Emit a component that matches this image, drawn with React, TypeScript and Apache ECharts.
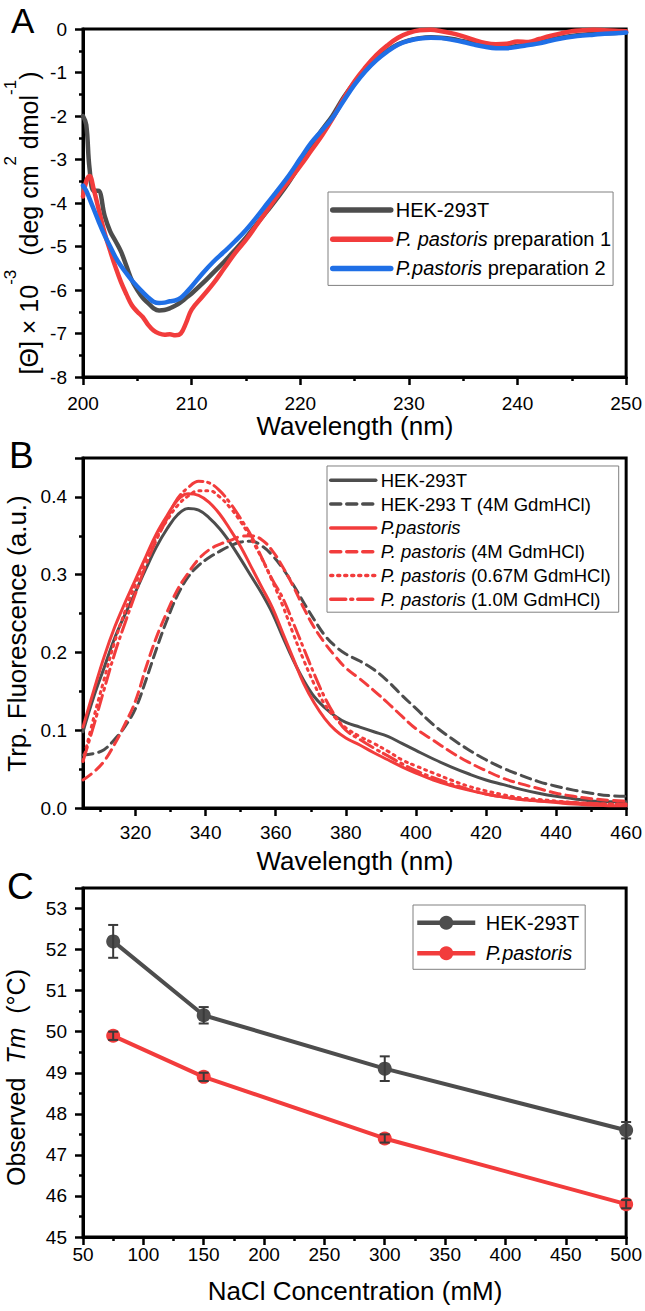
import React, { useEffect, useRef } from 'react';
import * as echarts from 'echarts';

const FONT = '"Liberation Sans", Arial, Helvetica, sans-serif';
const GRAY = '#4d4d4d';
const RED = '#f23c3c';
const BLUE = '#1f6fe6';

// ---------- Panel A : CD spectra ----------
const cdWavelength = [200, 200.3, 200.6, 201, 201.4, 202, 202.5, 203, 203.5, 204, 204.5, 205, 205.5, 206, 206.5, 207, 207.5, 208, 208.5, 209, 209.5,
  210, 211, 212, 213, 214, 215, 216, 217, 218, 219, 220, 221, 222, 223, 224, 225, 226, 227, 228, 229, 230,
  231, 232, 233, 234, 235, 236, 237, 238, 239, 240, 241, 242, 243, 244, 245, 246, 247, 248, 249, 250];
const cdHEK = [-2.0, -2.2, -3.2, -3.72, -3.72, -4.3, -4.65, -4.88, -5.12, -5.45, -5.78, -6.0, -6.18, -6.3, -6.42, -6.47, -6.46, -6.42, -6.36, -6.28, -6.18,
  -6.08, -5.85, -5.6, -5.35, -5.08, -4.8, -4.48, -4.17, -3.85, -3.5, -3.1, -2.68, -2.32, -1.98, -1.57, -1.23, -0.95, -0.7, -0.5, -0.35, -0.26,
  -0.21, -0.19, -0.2, -0.23, -0.28, -0.33, -0.38, -0.41, -0.41, -0.39, -0.35, -0.3, -0.25, -0.2, -0.16, -0.13, -0.11, -0.1, -0.09, -0.08];
const cdPichia1 = [-3.85, -3.5, -3.38, -3.7, -4.1, -4.7, -5.1, -5.48, -5.82, -6.1, -6.35, -6.5, -6.62, -6.8, -6.93, -7.0, -7.03, -7.02, -7.04, -7.0, -6.75,
  -6.45, -6.15, -5.85, -5.5, -5.15, -4.85, -4.5, -4.15, -3.8, -3.48, -3.15, -2.8, -2.45, -2.05, -1.6, -1.2, -0.88, -0.6, -0.38, -0.2, -0.09,
  -0.03, -0.02, -0.05, -0.1, -0.17, -0.25, -0.32, -0.35, -0.34, -0.29, -0.3, -0.23, -0.16, -0.1, -0.05, -0.03, -0.02, -0.03, -0.04, -0.05];
const cdPichia2 = [-3.6, -3.72, -3.9, -4.15, -4.4, -4.75, -5.0, -5.25, -5.45, -5.62, -5.78, -5.92, -6.05, -6.17, -6.27, -6.3, -6.29, -6.26, -6.24, -6.18, -6.06,
  -5.92, -5.62, -5.35, -5.12, -4.88, -4.62, -4.32, -4.0, -3.68, -3.35, -2.98, -2.62, -2.33, -2.03, -1.65, -1.28, -0.97, -0.72, -0.52, -0.36, -0.27,
  -0.22, -0.2, -0.21, -0.25, -0.3, -0.36, -0.41, -0.44, -0.44, -0.41, -0.37, -0.33, -0.27, -0.22, -0.18, -0.15, -0.13, -0.11, -0.1, -0.08];

// ---------- Panel B : Trp fluorescence ----------
const flWavelength = [305, 308, 311, 314, 317, 320, 323, 326, 329, 332, 335, 338, 341, 344, 347, 350, 353, 356, 359, 362, 365, 368, 371, 374, 377, 380,
  384, 388, 392, 396, 400, 405, 410, 415, 420, 425, 430, 435, 440, 445, 450, 455, 460];
const flHEK = [0.098, 0.142, 0.18, 0.218, 0.249, 0.278, 0.308, 0.336, 0.359, 0.377, 0.385, 0.383, 0.373, 0.359, 0.341, 0.32, 0.298, 0.276, 0.251, 0.22, 0.19, 0.164, 0.143, 0.129, 0.118, 0.11,
  0.104, 0.098, 0.092, 0.083, 0.074, 0.063, 0.053, 0.044, 0.036, 0.03, 0.024, 0.019, 0.015, 0.012, 0.009, 0.008, 0.008];
const flHEK4M = [0.068, 0.07, 0.075, 0.088, 0.105, 0.128, 0.165, 0.205, 0.242, 0.274, 0.297, 0.312, 0.322, 0.33, 0.337, 0.342, 0.343, 0.337, 0.325, 0.308, 0.287, 0.264, 0.242, 0.222, 0.208, 0.198,
  0.189, 0.178, 0.163, 0.145, 0.128, 0.107, 0.09, 0.075, 0.062, 0.051, 0.042, 0.034, 0.028, 0.023, 0.019, 0.016, 0.015];
const flPichia = [0.104, 0.15, 0.194, 0.232, 0.264, 0.294, 0.324, 0.353, 0.376, 0.396, 0.404, 0.402, 0.393, 0.378, 0.358, 0.336, 0.31, 0.284, 0.258, 0.225, 0.192, 0.16, 0.135, 0.115, 0.1, 0.09,
  0.081, 0.071, 0.062, 0.053, 0.045, 0.036, 0.029, 0.023, 0.018, 0.014, 0.011, 0.009, 0.007, 0.005, 0.004, 0.003, 0.003];
const flPichia4M = [0.036, 0.046, 0.06, 0.082, 0.108, 0.138, 0.181, 0.22, 0.252, 0.281, 0.302, 0.32, 0.332, 0.339, 0.344, 0.349, 0.35, 0.345, 0.331, 0.31, 0.285, 0.257, 0.232, 0.212, 0.195, 0.18,
  0.166, 0.151, 0.135, 0.118, 0.102, 0.087, 0.072, 0.059, 0.048, 0.038, 0.031, 0.025, 0.019, 0.015, 0.012, 0.01, 0.009];
const flPichia067M = [0.06, 0.115, 0.165, 0.213, 0.253, 0.288, 0.321, 0.348, 0.37, 0.389, 0.401, 0.408, 0.408, 0.4, 0.386, 0.368, 0.346, 0.321, 0.292, 0.26, 0.224, 0.19, 0.159, 0.133, 0.116, 0.103,
  0.092, 0.083, 0.073, 0.062, 0.054, 0.045, 0.036, 0.028, 0.022, 0.017, 0.013, 0.011, 0.009, 0.007, 0.006, 0.005, 0.005];
const flPichia10M = [0.06, 0.105, 0.152, 0.198, 0.238, 0.276, 0.313, 0.345, 0.372, 0.398, 0.412, 0.42, 0.418, 0.408, 0.392, 0.372, 0.35, 0.322, 0.294, 0.27, 0.238, 0.205, 0.172, 0.142, 0.118, 0.1,
  0.088, 0.077, 0.067, 0.057, 0.048, 0.039, 0.031, 0.024, 0.018, 0.014, 0.011, 0.009, 0.008, 0.007, 0.006, 0.005, 0.005];
const flTicks = [320, 340, 360, 380, 400, 420, 440, 460];
const flMinorTicks = [310, 330, 350, 370, 390, 410, 430, 450];

// ---------- Panel C : Tm vs NaCl ----------
const nacl = [75, 150, 300, 500];
const tmHEK = [52.2, 50.4, 49.1, 47.6];
const tmHEKErr = [0.4, 0.2, 0.3, 0.2];
const tmPichia = [49.9, 48.9, 47.4, 45.8];
const tmPichiaErr = [0.1, 0.1, 0.1, 0.1];

const legendLabels: Record<string, string> = {
  'A HEK': '{n|HEK-293T}',
  'A P1': '{i|P. pastoris}{n| preparation 1}',
  'A P2': '{i|P.pastoris}{n| preparation 2}',
  'B HEK': '{n|HEK-293T}',
  'B HEK4M': '{n|HEK-293 T (4M GdmHCl)}',
  'B P': '{i|P.pastoris}',
  'B P4M': '{i|P. pastoris}{n| (4M GdmHCl)}',
  'B P067M': '{i|P. pastoris}{n| (0.67M GdmHCl)}',
  'B P10M': '{i|P. pastoris}{n| (1.0M GdmHCl)}',
  'C HEK': '{n| HEK-293T}',
  'C P': '{i| P.pastoris}',
};

const pairs = (xs: number[], ys: number[]) => xs.map((x, i) => [x, ys[i]]);
const triples = (xs: number[], ys: number[], es: number[]) => xs.map((x, i) => [x, ys[i], es[i]]);

const richFor = (size: number) => ({
  n: { fontSize: size, fontFamily: FONT, color: '#000' },
  i: { fontSize: size, fontFamily: FONT, fontStyle: 'italic', color: '#000' },
});

const axisStyle = (margin: number) => ({
  type: 'value',
  axisLine: { show: true, onZero: false, lineStyle: { color: '#000', width: 3 } },
  axisTick: { show: true, inside: false, length: 8, lineStyle: { color: '#000', width: 2.5 } },
  minorTick: { show: true, splitNumber: 2, length: 4, lineStyle: { color: '#000', width: 2.5 } },
  axisLabel: { margin, color: '#000', fontSize: 19, fontFamily: FONT },
  splitLine: { show: false },
  minorSplitLine: { show: false },
});

const errorBarRender = (params: any, api: any) => {
  const x = api.value(0);
  const y = api.value(1);
  const e = api.value(2);
  const top = api.coord([x, y + e]);
  const bot = api.coord([x, y - e]);
  const hw = 5;
  const st = { stroke: '#3a3a3a', lineWidth: 2 };
  return {
    type: 'group',
    children: [
      { type: 'line', shape: { x1: top[0], y1: top[1], x2: bot[0], y2: bot[1] }, style: st },
      { type: 'line', shape: { x1: top[0] - hw, y1: top[1], x2: top[0] + hw, y2: top[1] }, style: st },
      { type: 'line', shape: { x1: bot[0] - hw, y1: bot[1], x2: bot[0] + hw, y2: bot[1] }, style: st },
    ],
  };
};

const lineSeries = (name: string, xi: number, yi: number, xs: number[], ys: number[], color: string, width: number, type: any = 'solid') => ({
  name,
  type: 'line',
  xAxisIndex: xi,
  yAxisIndex: yi,
  data: pairs(xs, ys),
  symbol: 'none',
  smooth: 0.4,
  lineStyle: { color, width, type, cap: 'round', join: 'round' },
  itemStyle: { color },
  silent: true,
  emphasis: { disabled: true },
});

const titleText = (x: number, y: number, text: string, size: number, rotate = false, rich?: any) => ({
  type: 'text',
  x,
  y,
  rotation: rotate ? Math.PI / 2 : 0,
  silent: true,
  style: {
    text,
    fontSize: size,
    fontFamily: FONT,
    fill: '#000',
    align: 'center',
    verticalAlign: 'middle',
    textAlign: 'center',
    textVerticalAlign: 'middle',
    rich,
  },
});

const letter = (x: number, y: number, t: string, size: number) => ({
  type: 'text',
  x,
  y,
  silent: true,
  style: {
    text: t,
    fontSize: size,
    fontFamily: FONT,
    fill: '#000',
    align: 'left',
    verticalAlign: 'middle',
    textAlign: 'left',
    textVerticalAlign: 'middle',
  },
});

const option: any = {
  animation: false,
  backgroundColor: '#fff',
  textStyle: { fontFamily: FONT },
  grid: [
    { left: 83, width: 544, top: 29, height: 348, show: true, borderColor: '#000', borderWidth: 3, backgroundColor: 'transparent' },
    { left: 83, width: 544, top: 458, height: 350, show: true, borderColor: '#000', borderWidth: 3, backgroundColor: 'transparent' },
    { left: 83, width: 544, top: 888, height: 349, show: true, borderColor: '#000', borderWidth: 3, backgroundColor: 'transparent' },
  ],
  xAxis: [
    { ...axisStyle(16.5), gridIndex: 0, position: 'bottom', min: 200, max: 250, interval: 10 },
    {
      ...axisStyle(14.5), gridIndex: 1, position: 'bottom', min: 305, max: 460,
      axisLabel: { margin: 14.5, color: '#000', fontSize: 19, fontFamily: FONT, customValues: flTicks },
      axisTick: { show: true, inside: false, length: 8, lineStyle: { color: '#000', width: 2.5 }, customValues: flTicks },
      minorTick: { show: false },
    },
    {
      type: 'value', gridIndex: 1, position: 'bottom', min: 305, max: 460,
      axisLine: { show: false, onZero: false },
      axisLabel: { show: false },
      axisTick: { show: true, inside: false, length: 4, lineStyle: { color: '#000', width: 2.5 }, customValues: flMinorTicks },
      splitLine: { show: false },
    },
    { ...axisStyle(7.5), gridIndex: 2, position: 'bottom', min: 50, max: 500, interval: 50 },
  ],
  yAxis: [
    { ...axisStyle(16), gridIndex: 0, min: -8, max: 0, interval: 1 },
    {
      ...axisStyle(16), gridIndex: 1, min: 0, max: 0.45, interval: 0.1,
      axisLabel: { margin: 16, color: '#000', fontSize: 19, fontFamily: FONT, showMaxLabel: false, formatter: (v: number) => v.toFixed(1) },
    },
    {
      ...axisStyle(16), gridIndex: 2, min: 45, max: 53.5, interval: 1,
      axisLabel: { margin: 16, color: '#000', fontSize: 19, fontFamily: FONT, showMaxLabel: false },
    },
  ],
  legend: [
    {
      data: ['A HEK', 'A P1', 'A P2'],
      orient: 'vertical', left: 328, top: 192,
      padding: [8, 2, 7, 2], itemWidth: 58, itemHeight: 14, itemGap: 9.2,
      borderColor: '#808080', borderWidth: 1, backgroundColor: '#fff',
      selectedMode: false,
      formatter: (n: string) => legendLabels[n],
      textStyle: { fontSize: 20, fontFamily: FONT, color: '#000', rich: richFor(20) },
      lineStyle: { width: 5.5, cap: 'round' },
      itemStyle: { opacity: 0 },
    },
    {
      data: ['B HEK', 'B HEK4M', 'B P', 'B P4M', 'B P067M', 'B P10M'],
      orient: 'vertical', left: 327, top: 466,
      padding: [4.8, 8, 3.4, 2], itemWidth: 45, itemHeight: 14, itemGap: 4.8,
      borderColor: '#808080', borderWidth: 1, backgroundColor: '#fff',
      selectedMode: false,
      formatter: (n: string) => legendLabels[n],
      textStyle: { fontSize: 18.5, fontFamily: FONT, color: '#000', rich: richFor(18.5) },
      lineStyle: { width: 3.5 },
      itemStyle: { opacity: 0 },
    },
    {
      data: ['C HEK', 'C P'],
      orient: 'vertical', left: 413, top: 905,
      padding: [7.7, 6, 6, 2], itemWidth: 58, itemHeight: 17.5, itemGap: 10.6,
      borderColor: '#808080', borderWidth: 1, backgroundColor: '#fff',
      selectedMode: false,
      formatter: (n: string) => legendLabels[n],
      textStyle: { fontSize: 20, fontFamily: FONT, color: '#000', rich: richFor(20) },
      lineStyle: { width: 4.5 },
    },
  ],
  series: [
    lineSeries('A HEK', 0, 0, cdWavelength, cdHEK, GRAY, 4.5),
    lineSeries('A P1', 0, 0, cdWavelength, cdPichia1, RED, 4.5),
    lineSeries('A P2', 0, 0, cdWavelength, cdPichia2, BLUE, 4.5),

    lineSeries('B HEK', 1, 1, flWavelength, flHEK, GRAY, 3),
    lineSeries('B HEK4M', 1, 1, flWavelength, flHEK4M, GRAY, 3, [10, 6]),
    lineSeries('B P', 1, 1, flWavelength, flPichia, RED, 3),
    lineSeries('B P4M', 1, 1, flWavelength, flPichia4M, RED, 3, [10, 6]),
    lineSeries('B P067M', 1, 1, flWavelength, flPichia067M, RED, 3, [2, 5]),
    lineSeries('B P10M', 1, 1, flWavelength, flPichia10M, RED, 3, [15, 5, 2, 5]),

    {
      name: 'C HEK', type: 'line', xAxisIndex: 3, yAxisIndex: 2,
      data: pairs(nacl, tmHEK), symbol: 'circle', symbolSize: 14, showSymbol: true,
      lineStyle: { color: GRAY, width: 4 }, itemStyle: { color: GRAY }, silent: true, emphasis: { disabled: true },
    },
    {
      name: 'C P', type: 'line', xAxisIndex: 3, yAxisIndex: 2,
      data: pairs(nacl, tmPichia), symbol: 'circle', symbolSize: 14, showSymbol: true,
      lineStyle: { color: RED, width: 4 }, itemStyle: { color: RED }, silent: true, emphasis: { disabled: true },
    },
    {
      name: 'C HEK err', type: 'custom', xAxisIndex: 3, yAxisIndex: 2, z: 5,
      data: triples(nacl, tmHEK, tmHEKErr), renderItem: errorBarRender, silent: true, encode: { x: 0, y: 1 },
    },
    {
      name: 'C P err', type: 'custom', xAxisIndex: 3, yAxisIndex: 2, z: 5,
      data: triples(nacl, tmPichia, tmPichiaErr), renderItem: errorBarRender, silent: true, encode: { x: 0, y: 1 },
    },
  ],
  graphic: [
    letter(11, 20.5, 'A', 35),
    letter(9, 455, 'B', 37),
    letter(7, 886.5, 'C', 37),
    titleText(355, 426, 'Wavelength (nm)', 26),
    titleText(355, 861, 'Wavelength (nm)', 26),
    titleText(355, 1291, 'NaCl Concentration (mM)', 26),
    titleText(28.5, 223, '{m|[Θ] × 10}{s|-3}{m|  (deg cm}{s|2}{m| dmol}{s|-1}{m|)}', 25, true, {
      m: { fontSize: 25, fontFamily: FONT, lineHeight: 54, color: '#000' },
      s: { fontSize: 17, fontFamily: FONT, lineHeight: 17, verticalAlign: 'top', color: '#000' },
    }),
    titleText(17.2, 633.5, 'Trp. Fluorescence (a.u.)', 26, true),
    titleText(15.5, 1077.5, '{m|Observed  }{i|Tm}{m|  (°C)}', 25, true, {
      m: { fontSize: 25, fontFamily: FONT, color: '#000' },
      i: { fontSize: 25, fontFamily: FONT, fontStyle: 'italic', color: '#000' },
    }),
  ],
};

export default function App() {
  const ref = useRef<HTMLDivElement>(null);
  useEffect(() => {
    const chart = echarts.init(ref.current!, null, { renderer: 'svg' });
    chart.setOption(option);
    return () => chart.dispose();
  }, []);
  return (
    <div
      ref={ref}
      style={{ position: 'absolute', left: 0, top: 0, width: 645, height: 1311, background: '#fff' }}
    />
  );
}
